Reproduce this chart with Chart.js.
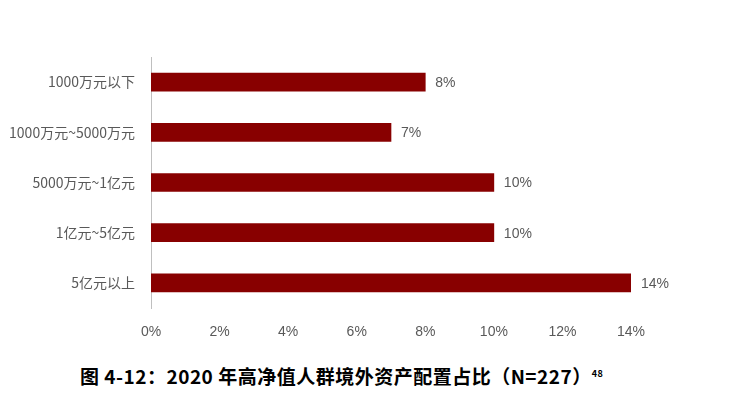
<!DOCTYPE html>
<html><head><meta charset="utf-8">
<script src="https://cdn.jsdelivr.net/npm/chart.js@4"></script>
<style>
body{margin:0;background:#fff;font-family:"Noto Sans CJK SC",sans-serif;}
#wrap{position:relative;width:746px;height:345px;}
#title{position:absolute;left:80px;top:362px;font-size:19px;font-weight:bold;color:#000;font-family:"Noto Sans CJK SC";letter-spacing:0.5px;}
#title sup{font-size:9px;}
</style></head><body>
<div id="wrap"><canvas id="c" width="746" height="345"></canvas></div>
<div id="title">图 4-12：2020 年高净值人群境外资产配置占比（N=227）<sup>48</sup></div>
<script>
// Data
const categories = ["1000万元以下", "1000万元~5000万元", "5000万元~1亿元", "1亿元~5亿元", "5亿元以上"];
const shares = [8, 7, 10, 10, 14];
const tickMax = 14;
const tickStep = 2;

const valueLabels = {
  id: "valueLabels",
  afterDatasetsDraw(chart) {
    const ctx = chart.ctx;
    const meta = chart.getDatasetMeta(0);
    ctx.save();
    ctx.fillStyle = "#595959";
    ctx.font = "14px 'Liberation Sans', Arial, sans-serif";
    ctx.textBaseline = "middle";
    meta.data.forEach((bar, i) => {
      ctx.fillText(shares[i] + "%", bar.x + 10, bar.y + 1);
    });
    ctx.restore();
  }
};

new Chart(document.getElementById("c"), {
  type: "bar",
  data: {
    labels: categories,
    datasets: [{
      data: shares,
      backgroundColor: "#880000",
      barThickness: 18
    }]
  },
  options: {
    indexAxis: "y",
    responsive: false,
    animation: false,
    layout: { padding: { top: 57, right: 115, left: 0, bottom: 0 } },
    plugins: { legend: { display: false }, tooltip: { enabled: false } },
    scales: {
      x: {
        min: 0, max: tickMax,
        ticks: { stepSize: tickStep, callback: v => v + "%", color: "#595959",
          font: { size: 14, family: "'Liberation Sans', Arial, sans-serif" }, padding: 8 },
        grid: { display: false },
        border: { display: false },
        afterFit(s) { s.height = 37; }
      },
      y: {
        ticks: { color: "#595959", font: { size: 14, family: "'Noto Sans CJK SC'" }, padding: 8 },
        grid: { display: false },
        border: { display: true, color: "#bfbfbf" },
        afterFit(s) { s.width = 151; }
      }
    }
  },
  plugins: [valueLabels]
});
</script>
</body></html>
